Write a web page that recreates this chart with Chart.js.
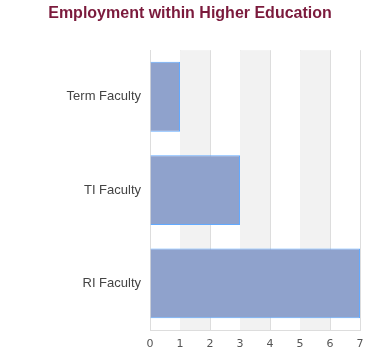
<!DOCTYPE html>
<html>
<head>
<meta charset="utf-8">
<script src="https://cdn.jsdelivr.net/npm/chart.js@4/dist/chart.umd.min.js"></script>
<style>
html,body{margin:0;padding:0;background:#fff;}
#wrap{width:380px;height:360px;position:relative;}
</style>
</head>
<body>
<div id="wrap"><canvas id="c"></canvas></div>
<script>
const categories = ['Term Faculty', 'TI Faculty', 'RI Faculty'];
const employees = [1, 3, 7];
const xTicks = [0, 1, 2, 3, 4, 5, 6, 7];
const chartTitle = 'Employment within Higher Education';

const bandPlugin = {
  id: 'bands',
  beforeDatasetsDraw(chart) {
    const {ctx, chartArea, scales} = chart;
    const x = scales.x;
    ctx.save();
    ctx.fillStyle = '#f2f2f2';
    for (let i = 1; i < xTicks.length - 1; i += 2) {
      const a = x.getPixelForValue(xTicks[i]);
      const b = x.getPixelForValue(xTicks[i + 1]);
      ctx.fillRect(a, chartArea.top, b - a, chartArea.bottom - chartArea.top);
    }
    ctx.restore();
  }
};

new Chart(document.getElementById('c'), {
  type: 'bar',
  data: {
    labels: categories,
    datasets: [{
      data: employees,
      backgroundColor: '#8fa2cc',
      borderColor: '#62aaff',
      borderWidth: 1,
      borderSkipped: 'start',
      barPercentage: 0.75,
      categoryPercentage: 1.0
    }]
  },
  options: {
    indexAxis: 'y',
    responsive: true,
    maintainAspectRatio: false,
    animation: false,
    layout: {padding: {left: 0, right: 0, top: 0, bottom: 0}},
    plugins: {
      legend: {display: false},
      tooltip: {enabled: false},
      title: {
        display: true,
        text: chartTitle,
        color: '#7b1a3c',
        font: {family: '"Liberation Sans", Arial, sans-serif', size: 16, weight: 'bold'},
        padding: {top: 4, bottom: 27}
      }
    },
    scales: {
      x: {
        min: 0,
        max: 7,
        afterBuildTicks(scale) { scale.ticks = xTicks.map(v => ({value: v})); },
        grid: {color: '#dddddd', drawTicks: false, lineWidth: 1},
        border: {color: '#dddddd'},
        ticks: {
          color: '#555',
          padding: 8,
          font: {family: '"DejaVu Sans", sans-serif', size: 11}
        },
        afterFit(scale) { scale.height = 30; }
      },
      y: {
        grid: {display: false, drawTicks: false},
        border: {color: '#dddddd'},
        ticks: {
          color: '#444',
          padding: 9,
          font: {family: '"Liberation Sans", Arial, sans-serif', size: 13}
        },
        afterFit(scale) { scale.width = 150; }
      },
      yRight: {
        position: 'right',
        display: true,
        grid: {display: false, drawTicks: false},
        border: {display: false},
        ticks: {display: false},
        afterFit(scale) { scale.width = 20; }
      }
    }
  },
  plugins: [bandPlugin]
});
</script>
</body>
</html>
